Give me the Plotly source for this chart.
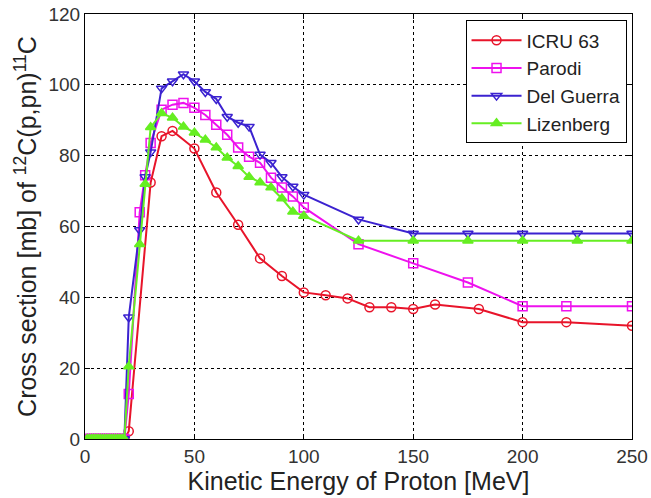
import plotly.graph_objects as go

low_x = [1, 2, 3, 4, 5, 6, 7, 8, 9, 10, 11, 12, 13, 14, 15, 16, 17, 18]
low_y = [0] * len(low_x)

icru_x = low_x + [20, 30, 35, 40, 50, 60, 70, 80, 90, 100, 110, 120, 130, 140, 150, 160, 180, 200, 220, 250]
icru_y = low_y + [2.2, 72.4, 85.5, 87, 82, 69.6, 60.5, 51, 46, 41.4, 40.6, 39.7, 37.2, 37.2, 36.7, 38, 36.7, 33, 33, 32]

parodi_x = low_x + [20, 25, 27.5, 30, 35, 40, 45, 50, 55, 60, 65, 70, 75, 80, 85, 90, 95, 100, 125, 150, 175, 200, 220, 250]
parodi_y = low_y + [12.7, 64, 74.5, 83.6, 93, 94.4, 94.9, 93.5, 91.5, 88.7, 85.9, 82.3, 79.7, 78, 73.8, 71, 68.5, 65.4, 55, 49.6, 44.2, 37.5, 37.5, 37.5]

guerra_x = low_x + [20, 25, 27.5, 30, 35, 40, 45, 50, 55, 60, 65, 70, 75, 80, 85, 90, 95, 100, 125, 150, 175, 200, 225, 250]
guerra_y = low_y + [34.4, 59, 74, 81, 99, 101, 103, 101, 98, 96, 91, 89.3, 88.2, 80.3, 78, 74, 71.3, 69, 62, 58, 58, 58, 58, 58]

liz_x = low_x + [20, 25, 27.5, 30, 35, 40, 45, 50, 55, 60, 65, 70, 75, 80, 85, 90, 95, 100, 125, 150, 175, 200, 225, 250]
liz_y = low_y + [20.5, 55, 72, 88, 92, 90.7, 88.2, 86.5, 84.5, 82.3, 79.4, 77, 74, 72.4, 71, 67.9, 64.2, 63, 56, 56, 56, 56, 56, 56]

names = ["ICRU 63", "Parodi", "Del Guerra", "Lizenberg"]
colors = ["#e8142a", "#ee11ee", "#3b22d0", "#66ee22"]
symbols = ["circle-open", "square-open", "triangle-down-open", "triangle-up"]
xs = [icru_x, parodi_x, guerra_x, liz_x]
ys = [icru_y, parodi_y, guerra_y, liz_y]

fig = go.Figure()
for n, c, s, x, y in zip(names, colors, symbols, xs, ys):
    fig.add_trace(go.Scatter(
        x=x, y=y, name=n, mode="lines+markers",
        line=dict(color=c, width=2),
        marker=dict(symbol=s, size=9, color=c, line=dict(color=c, width=1.5)),
    ))

axis_common = dict(
    showline=True, linecolor="black", linewidth=1.2, mirror="ticks",
    ticks="inside", ticklen=5, tickcolor="black",
    showgrid=True, gridcolor="black", gridwidth=1, griddash="dot",
    zeroline=False, automargin=False,
    tickfont=dict(family="Liberation Sans, Arial", size=19, color="#333"),
)

fig.update_layout(
    width=651, height=498,
    margin=dict(l=85, r=19, t=14, b=59, autoexpand=False),
    paper_bgcolor="white", plot_bgcolor="white",
    font=dict(family="Liberation Sans, Arial", color="#222"),
    xaxis=dict(range=[0, 250], tickvals=[0, 50, 100, 150, 200, 250],
               title=dict(text="Kinetic Energy of Proton [MeV]", font=dict(size=25), standoff=2),
               **axis_common),
    yaxis=dict(range=[0, 120], tickvals=[0, 20, 40, 60, 80, 100, 120],
               title=dict(text="Cross section [mb] of <sup>12</sup>C(p,pn)<sup>11</sup>C", font=dict(size=25), standoff=4),
               **axis_common),
    legend=dict(x=0.99, y=0.985, xanchor="right", yanchor="top",
                bgcolor="white", bordercolor="black", borderwidth=1,
                font=dict(size=19, color="#222"), tracegroupgap=0, itemwidth=50),
    showlegend=True,
)

fig.write_html("out.html")
